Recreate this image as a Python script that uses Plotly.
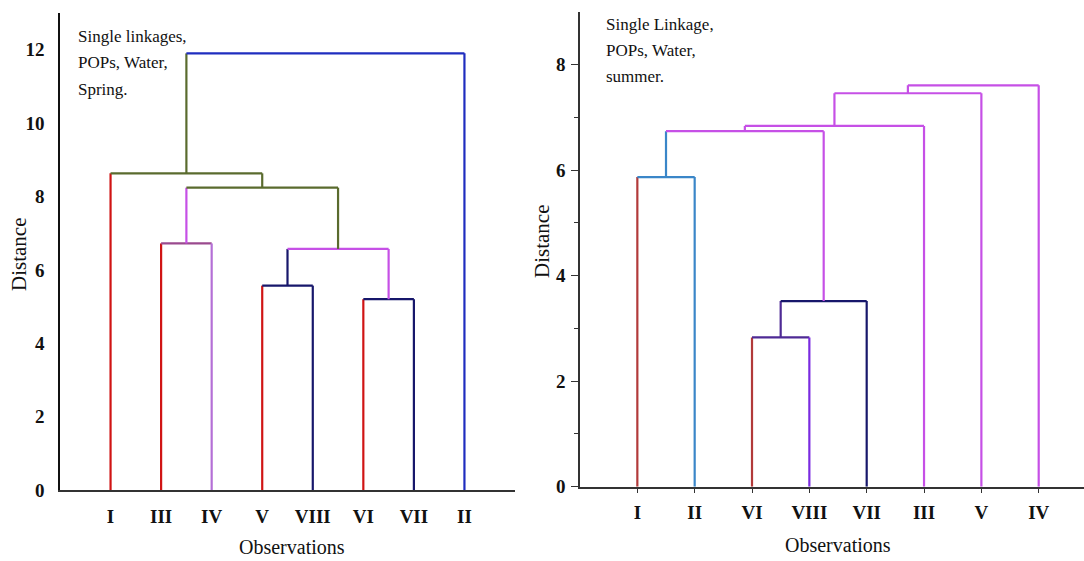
import plotly.graph_objects as go

# ---------------- data ----------------
# Left dendrogram: Single linkages, POPs, Water, Spring
left_leaves = ["I", "III", "IV", "V", "VIII", "VI", "VII", "II"]
left_merge_a = ["V", "VI", "m1", "III", "m4", "I", "m6"]
left_merge_b = ["VIII", "VII", "m2", "IV", "m3", "m5", "II"]
left_heights = [5.57, 5.20, 6.57, 6.72, 8.24, 8.63, 11.9]

# Right dendrogram: Single Linkage, POPs, Water, summer
right_leaves = ["I", "II", "VI", "VIII", "VII", "III", "V", "IV"]
right_merge_a = ["I", "VI", "m2", "m1", "m4", "m5", "m6"]
right_merge_b = ["II", "VIII", "VII", "m3", "III", "V", "IV"]
right_heights = [5.87, 2.83, 3.52, 6.74, 6.84, 7.46, 7.61]

left_yticks = [0, 2, 4, 6, 8, 10, 12]
right_yticks = [0, 2, 4, 6, 8]

# ---------------- styles ----------------
RED = "#D01414"
NAVY = "#17176B"
MAG = "#C650E6"
GREEN = "#5A6B2E"
BLUE = "#1F2DBF"
LILAC = "#B46FD6"
MAUVE = "#9A4A8E"

RRED = "#B23A3A"
RBLUE = "#3A86C8"
RPUR = "#7A2BE0"
RDPUR = "#4E2A95"

# colors per merge: (left leg, bar, right leg)
left_colors = [
    (RED, NAVY, NAVY),
    (RED, NAVY, NAVY),
    (NAVY, MAG, MAG),
    (RED, MAUVE, LILAC),
    (MAG, GREEN, GREEN),
    (RED, GREEN, GREEN),
    (GREEN, BLUE, BLUE),
]
right_colors = [
    (RRED, RBLUE, RBLUE),
    (RRED, RDPUR, RPUR),
    (RDPUR, NAVY, NAVY),
    (RBLUE, MAG, MAG),
    (MAG, MAG, MAG),
    (MAG, MAG, MAG),
    (MAG, MAG, MAG),
]

FONT = "Liberation Serif"
W, H = 1084, 561
HE = 550.0  # effective rendered paper height used for placement


def py(ypix):
    return 1 - ypix / HE


def dendro_traces(leaves, ma, mb, heights, colors, xa, ya):
    pos = {name: (i + 1, 0.0) for i, name in enumerate(leaves)}
    traces = []
    for k, (a, b, h, cols) in enumerate(zip(ma, mb, heights, colors)):
        xa_, ha = pos[a]
        xb_, hb = pos[b]
        segs = [
            ([xa_, xa_], [ha, h], cols[0]),
            ([xa_, xb_], [h, h], cols[1]),
            ([xb_, xb_], [hb, h], cols[2]),
        ]
        for xs, ys, c in segs:
            traces.append(go.Scatter(x=xs, y=ys, mode="lines",
                                     line=dict(color=c, width=2.2),
                                     xaxis=xa, yaxis=ya, showlegend=False,
                                     hoverinfo="skip"))
        pos["m%d" % (k + 1)] = ((xa_ + xb_) / 2.0, h)
    return traces


fig = go.Figure()
for t in dendro_traces(left_leaves, left_merge_a, left_merge_b, left_heights,
                       left_colors, "x", "y"):
    fig.add_trace(t)
for t in dendro_traces(right_leaves, right_merge_a, right_merge_b, right_heights,
                       right_colors, "x2", "y2"):
    fig.add_trace(t)

tickfont = dict(family=FONT, size=19, color="#111111", weight="bold")

fig.update_layout(
    width=W, height=H,
    margin=dict(l=0, r=0, t=0, b=0),
    paper_bgcolor="white", plot_bgcolor="white",
    showlegend=False,
    xaxis=dict(domain=[60 / W, 515 / W], range=[0, 9],
               tickmode="array", tickvals=list(range(1, 9)), ticktext=left_leaves,
               showgrid=False, zeroline=False, showline=True, linecolor="#333333",
               linewidth=1.5, ticks="", tickfont=tickfont, ticklabelstandoff=8,
               anchor="y"),
    yaxis=dict(domain=[py(490), py(13)], range=[0, 13],
               tickmode="array", tickvals=left_yticks,
               showgrid=False, zeroline=False, showline=True, linecolor="#111111",
               linewidth=1.5, ticks="", tickfont=tickfont, ticklabelstandoff=10,
               anchor="x"),
    xaxis2=dict(domain=[580 / W, 1.0], range=[0, 8.79],
                tickmode="array", tickvals=list(range(1, 9)), ticktext=right_leaves,
                showgrid=False, zeroline=False, showline=True, linecolor="#333333",
                linewidth=1.5, ticks="outside", ticklen=5, tickwidth=1.3,
                tickcolor="#333333", tickfont=tickfont, ticklabelstandoff=3,
                anchor="y2"),
    yaxis2=dict(domain=[py(486.7), py(12)], range=[0, 9],
                tickmode="array", tickvals=right_yticks,
                showgrid=False, zeroline=False, showline=True, linecolor="#333333",
                linewidth=1.5, ticks="outside", ticklen=7, tickwidth=1.3,
                tickcolor="#333333", tickfont=tickfont, ticklabelstandoff=2,
                minor=dict(tickmode="array", tickvals=[1, 3, 5, 7],
                           ticks="outside", ticklen=4, tickwidth=1.2,
                           tickcolor="#333333"),
                anchor="x2"),
)

ann = []
def txt(text, x, y, size=17, angle=0, xanchor="left"):
    ann.append(dict(text=text, x=x / W, y=py(y), xref="paper", yref="paper",
                    showarrow=False, xanchor=xanchor, yanchor="middle",
                    textangle=angle,
                    font=dict(family=FONT, size=size, color="#111111")))

# panel notes
for line, yy in zip(["Single linkages,", "POPs, Water,", "Spring."], [37, 63, 89]):
    txt(line, 76, yy)
for line, yy in zip(["Single Linkage,", "POPs, Water,", "summer."], [25, 50, 76]):
    txt(line, 604, yy)

# axis titles
txt("Distance", 19, 255, size=21, angle=-90, xanchor="center")
txt("Observations", 292, 547, size=20, xanchor="center")
txt("Distance", 542, 242, size=21, angle=-90, xanchor="center")
txt("Observations", 838, 545, size=20, xanchor="center")

fig.update_layout(annotations=ann)
fig.write_html("out.html")
